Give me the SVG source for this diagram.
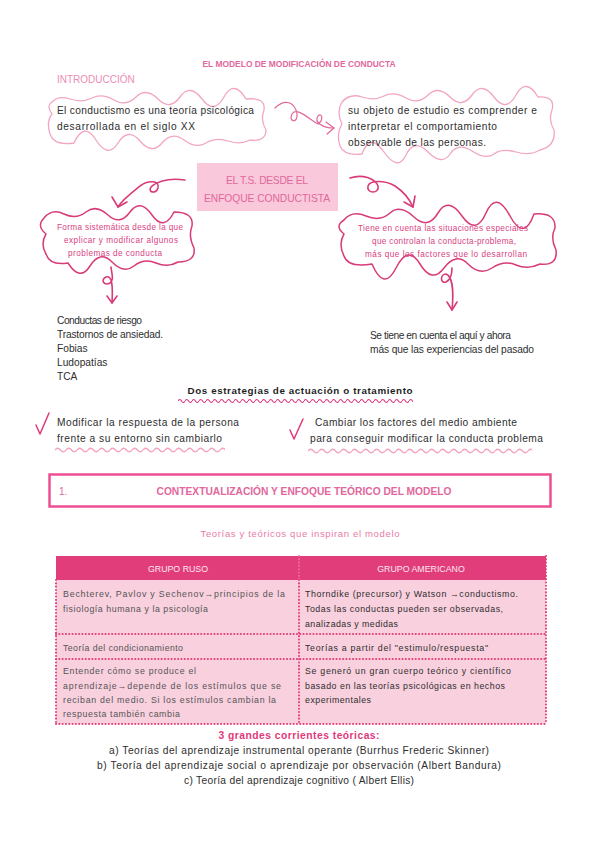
<svg xmlns="http://www.w3.org/2000/svg" width="599" height="848" viewBox="0 0 599 848">
<style>
text{font-family:"Liberation Sans",Arial,sans-serif;}
.body{font-size:10.2px;fill:#2e2e2e;}
.pk{fill:#e2679c;}
.b2{font-size:8.2px;fill:#d9417f;}
.tl{font-size:8.8px;fill:#555;}
.tr{font-size:8.8px;fill:#2e2e2e;}
.hd{font-size:8.8px;fill:#fde7ef;}
.wob{fill:none;stroke:#f2a6c4;stroke-width:1.3;stroke-linejoin:round;}
.wob2{fill:none;stroke:#d83b78;stroke-width:1.5;stroke-linejoin:round;}
.arr{fill:none;stroke:#d83b78;stroke-width:1.6;stroke-linecap:round;stroke-linejoin:round;}
.arl{fill:none;stroke:#e2679c;stroke-width:1.2;stroke-linecap:round;stroke-linejoin:round;}
.dot{fill:none;stroke:#e23d7b;stroke-width:2;stroke-dasharray:0.1 3.2;stroke-linecap:round;}
</style>
<defs>
<pattern id="wd" width="7" height="6" patternUnits="userSpaceOnUse"><path d="M0,3 Q1.75,0 3.5,3 T7,3" fill="none" stroke="#e0387a" stroke-width="1.2"/></pattern>
<pattern id="wl" width="11" height="8" patternUnits="userSpaceOnUse"><path d="M0,4 Q2.75,0.5 5.5,4 T11,4" fill="none" stroke="#f4a3c3" stroke-width="1.3"/></pattern>
</defs>

<g id="title">
<text x="299" y="67" text-anchor="middle" font-size="8.3" font-weight="bold" class="pk" textLength="193" lengthAdjust="spacingAndGlyphs">EL MODELO DE MODIFICACIÓN DE CONDUCTA</text>
<text x="57" y="83" font-size="10" fill="#ec8db5">INTRODUCCIÓN</text>
</g>

<g id="intro-left">
<path class="wob" d="M52,102 Q58,95 70,99 T92,98 T114,100 T136,97 T158,99 T180,97 T202,99 T224,97 T246,99 Q266,97 264,110 Q260,120 266,130 Q266,142 250,140 Q240,145 228,141 T206,143 T184,140 T162,143 T140,141 T118,143 T96,140 T74,143 Q54,146 50,134 Q46,122 52,114 Q46,106 52,102 Z"/>
<text class="body" x="57" y="114" textLength="197">El conductismo es una teoría psicológica</text>
<text class="body" x="57" y="130" textLength="138">desarrollada en el siglo XX</text>
</g>

<g id="intro-right">
<path class="wob" d="M342,102 Q350,93 362,97 T384,96 T406,98 T428,95 T450,97 T472,95 T494,97 T516,95 T538,97 Q556,96 552,110 Q548,120 554,130 Q556,146 540,150 Q530,156 516,152 T494,154 T472,151 T450,154 T428,152 T406,155 T384,152 T362,154 Q344,156 340,146 Q336,134 342,124 Q336,112 342,102 Z"/>
<text class="body" x="348" y="114" textLength="189">su objeto de estudio es comprender e</text>
<text class="body" x="348" y="130" textLength="149">interpretar el comportamiento</text>
<text class="body" x="348" y="146" textLength="138">observable de las personas.</text>
</g>

<g id="center">
<rect x="197" y="163" width="141" height="48" fill="#f9c9db"/>
<text x="267" y="184" text-anchor="middle" font-size="10.3" class="pk" textLength="82">EL T.S. DESDE EL</text>
<text x="267" y="202" text-anchor="middle" font-size="10.3" class="pk" textLength="126">ENFOQUE CONDUCTISTA</text>
</g>

<g id="box-left">
<path class="wob2" d="M44,218 Q52,208 64,214 T86,212 T108,215 T130,212 T152,215 T174,212 Q194,212 192,226 Q188,236 194,248 Q196,262 178,262 Q168,268 156,263 T134,266 T112,262 T90,266 T68,263 Q50,266 46,254 Q40,244 46,234 Q36,226 44,218 Z"/>
<text class="b2" x="57" y="230" textLength="126">Forma sistemática desde la que</text>
<text class="b2" x="64" y="243" textLength="114">explicar y modificar algunos</text>
<text class="b2" x="68" y="256" textLength="94">problemas de conducta</text>
</g>

<g id="box-right">
<path class="wob2" d="M344,220 Q352,210 366,216 T390,213 T414,217 T438,213 T462,216 T486,213 T510,216 T534,214 Q556,212 555,228 Q550,238 556,250 Q558,266 540,264 Q528,270 516,265 T492,268 T468,264 T444,268 T420,264 T396,268 T372,264 Q348,268 344,256 Q338,244 344,234 Q334,226 344,220 Z"/>
<text class="b2" x="358" y="231" textLength="170">Tiene en cuenta las situaciones especiales</text>
<text class="b2" x="372" y="244" textLength="144">que controlan la conducta-problema,</text>
<text class="b2" x="365" y="257" textLength="162">más que los factores que lo desarrollan</text>
</g>

<g id="list-left">
<text class="body" font-size="9.4" x="57" y="324" textLength="85">Conductas de riesgo</text>
<text class="body" font-size="9.4" x="57" y="338" textLength="106">Trastornos de ansiedad.</text>
<text class="body" font-size="9.4" x="57" y="352">Fobias</text>
<text class="body" font-size="9.4" x="57" y="366">Ludopatías</text>
<text class="body" font-size="9.4" x="57" y="380">TCA</text>
</g>

<g id="text-right">
<text class="body" font-size="9.2" x="370" y="339" textLength="141">Se tiene en cuenta el aquí y ahora</text>
<text class="body" font-size="9.2" x="370" y="353" textLength="164">más que las experiencias del pasado</text>
</g>

<g id="estrategias">
<text x="300" y="394" text-anchor="middle" font-size="9.8" font-weight="bold" fill="#1e1e1e" textLength="225">Dos estrategias de actuación o tratamiento</text>
<rect transform="translate(178,398)" width="235" height="6" fill="url(#wd)"/>
</g>

<g id="estrategia-1">
<path d="M36,425 L40,434 L49,413" fill="none" stroke="#e0387a" stroke-width="1.5" stroke-linecap="round" stroke-linejoin="round"/>
<text class="body" x="57" y="426" textLength="182">Modificar la respuesta de la persona</text>
<text class="body" x="57" y="442" textLength="165">frente a su entorno sin cambiarlo</text>
<rect transform="translate(55,446)" width="170" height="8" fill="url(#wl)"/>
</g>

<g id="estrategia-2">
<path d="M290,430 L294,439 L303,419" fill="none" stroke="#e0387a" stroke-width="1.5" stroke-linecap="round" stroke-linejoin="round"/>
<text class="body" x="315" y="426" textLength="202">Cambiar los factores del medio ambiente</text>
<text class="body" x="310" y="442" textLength="233">para conseguir modificar la conducta problema</text>
<rect transform="translate(308,447)" width="224" height="8" fill="url(#wl)"/>
</g>

<g id="section-1">
<rect x="49.5" y="474.5" width="501" height="32" fill="none" stroke="#ee4f93" stroke-width="2.5"/>
<text x="59" y="495" font-size="10" class="pk">1.</text>
<text x="304" y="495" text-anchor="middle" font-size="10" font-weight="bold" class="pk" textLength="295" lengthAdjust="spacingAndGlyphs">CONTEXTUALIZACIÓN Y ENFOQUE TEÓRICO DEL MODELO</text>
<text x="300" y="537" text-anchor="middle" font-size="9.5" fill="#e97ba8" textLength="199">Teorías y teóricos que inspiran el modelo</text>
</g>

<g id="table">
<rect x="56" y="556" width="490" height="24" fill="#e23d7b"/>
<rect x="56" y="580" width="490" height="144" fill="#f9d0de"/>
<line class="dot" x1="299" y1="556" x2="299" y2="580" style="stroke:#f06aa0"/>
<line class="dot" x1="56" y1="580" x2="56" y2="724"/>
<line class="dot" x1="546" y1="556" x2="546" y2="724"/>
<line class="dot" x1="299" y1="580" x2="299" y2="724"/>
<line class="dot" x1="56" y1="634" x2="546" y2="634"/>
<line class="dot" x1="56" y1="659" x2="546" y2="659"/>
<line class="dot" x1="56" y1="724" x2="546" y2="724"/>
<text class="hd" x="178" y="572" text-anchor="middle">GRUPO RUSO</text>
<text class="hd" x="421" y="572" text-anchor="middle">GRUPO AMERICANO</text>
<text class="tl" x="63" y="597" textLength="222">Bechterev, Pavlov y Sechenov→principios de la</text>
<text class="tl" x="63" y="612" textLength="145">fisiología humana y la psicología</text>
<text class="tr" x="305" y="597" textLength="213">Thorndike (precursor) y Watson →conductismo.</text>
<text class="tr" x="305" y="612" textLength="198">Todas las conductas pueden ser observadas,</text>
<text class="tr" x="305" y="627" textLength="93">analizadas y medidas</text>
<text class="tl" x="63" y="651" textLength="120">Teoría del condicionamiento</text>
<text class="tr" x="305" y="651" textLength="183">Teorías a partir del "estimulo/respuesta"</text>
<text class="tl" x="63" y="674" textLength="133">Entender cómo se produce el</text>
<text class="tl" x="63" y="689" textLength="218">aprendizaje→depende de los estímulos que se</text>
<text class="tl" x="63" y="703" textLength="213">reciban del medio. Si los estímulos cambian la</text>
<text class="tl" x="63" y="717" textLength="117">respuesta también cambia</text>
<text class="tr" x="305" y="674" textLength="206">Se generó un gran cuerpo teórico y científico</text>
<text class="tr" x="305" y="689" textLength="200">basado en las teorías psicológicas en hechos</text>
<text class="tr" x="305" y="703" textLength="66">experimentales</text>
</g>

<g id="corrientes">
<text x="299" y="739" text-anchor="middle" font-size="10.3" font-weight="bold" fill="#e2397b" textLength="161">3 grandes corrientes teóricas:</text>
<text class="body" x="299" y="754" text-anchor="middle" textLength="380">a) Teorías del aprendizaje instrumental operante (Burrhus Frederic Skinner)</text>
<text class="body" x="299" y="769" text-anchor="middle" textLength="404">b) Teoría del aprendizaje social o aprendizaje por observación (Albert Bandura)</text>
<text class="body" x="299" y="784" text-anchor="middle" textLength="230">c) Teoría del aprendizaje cognitivo ( Albert Ellis)</text>
</g>

<g id="connectors">
<path class="arl" d="M275,108 C285,98 295,102 297,114 C298,124 288,122 292,114 C296,106 310,120 318,124 C324,120 322,112 318,116 C314,122 322,128 334,128"/>
<path class="arl" d="M326,122 L334,128 L327,134"/>
<path class="arr" d="M185,180 C170,178 160,180 152,186 C146,192 156,195 158,188 C160,180 148,180 140,186 C130,194 122,200 118,207"/>
<path class="arr" d="M112,197 L118,207 L127,202"/>
<path class="arr" d="M350,178 C362,174 375,178 378,186 C380,194 366,194 368,186 C370,180 385,180 395,186 C404,192 410,200 413,207"/>
<path class="arr" d="M404,202 L413,207 L415,196"/>
<path class="arr" d="M111,267 C112,275 114,280 110,283 C104,286 100,280 106,277 C112,275 113,285 112,303"/>
<path class="arr" d="M107,296 L112,303 L117,296"/>
<path class="arr" d="M452,268 C452,275 450,280 446,282 C440,284 440,274 446,274 C452,276 454,290 452,310"/>
<path class="arr" d="M447,302 L452,310 L457,302"/>
</g>
</svg>
